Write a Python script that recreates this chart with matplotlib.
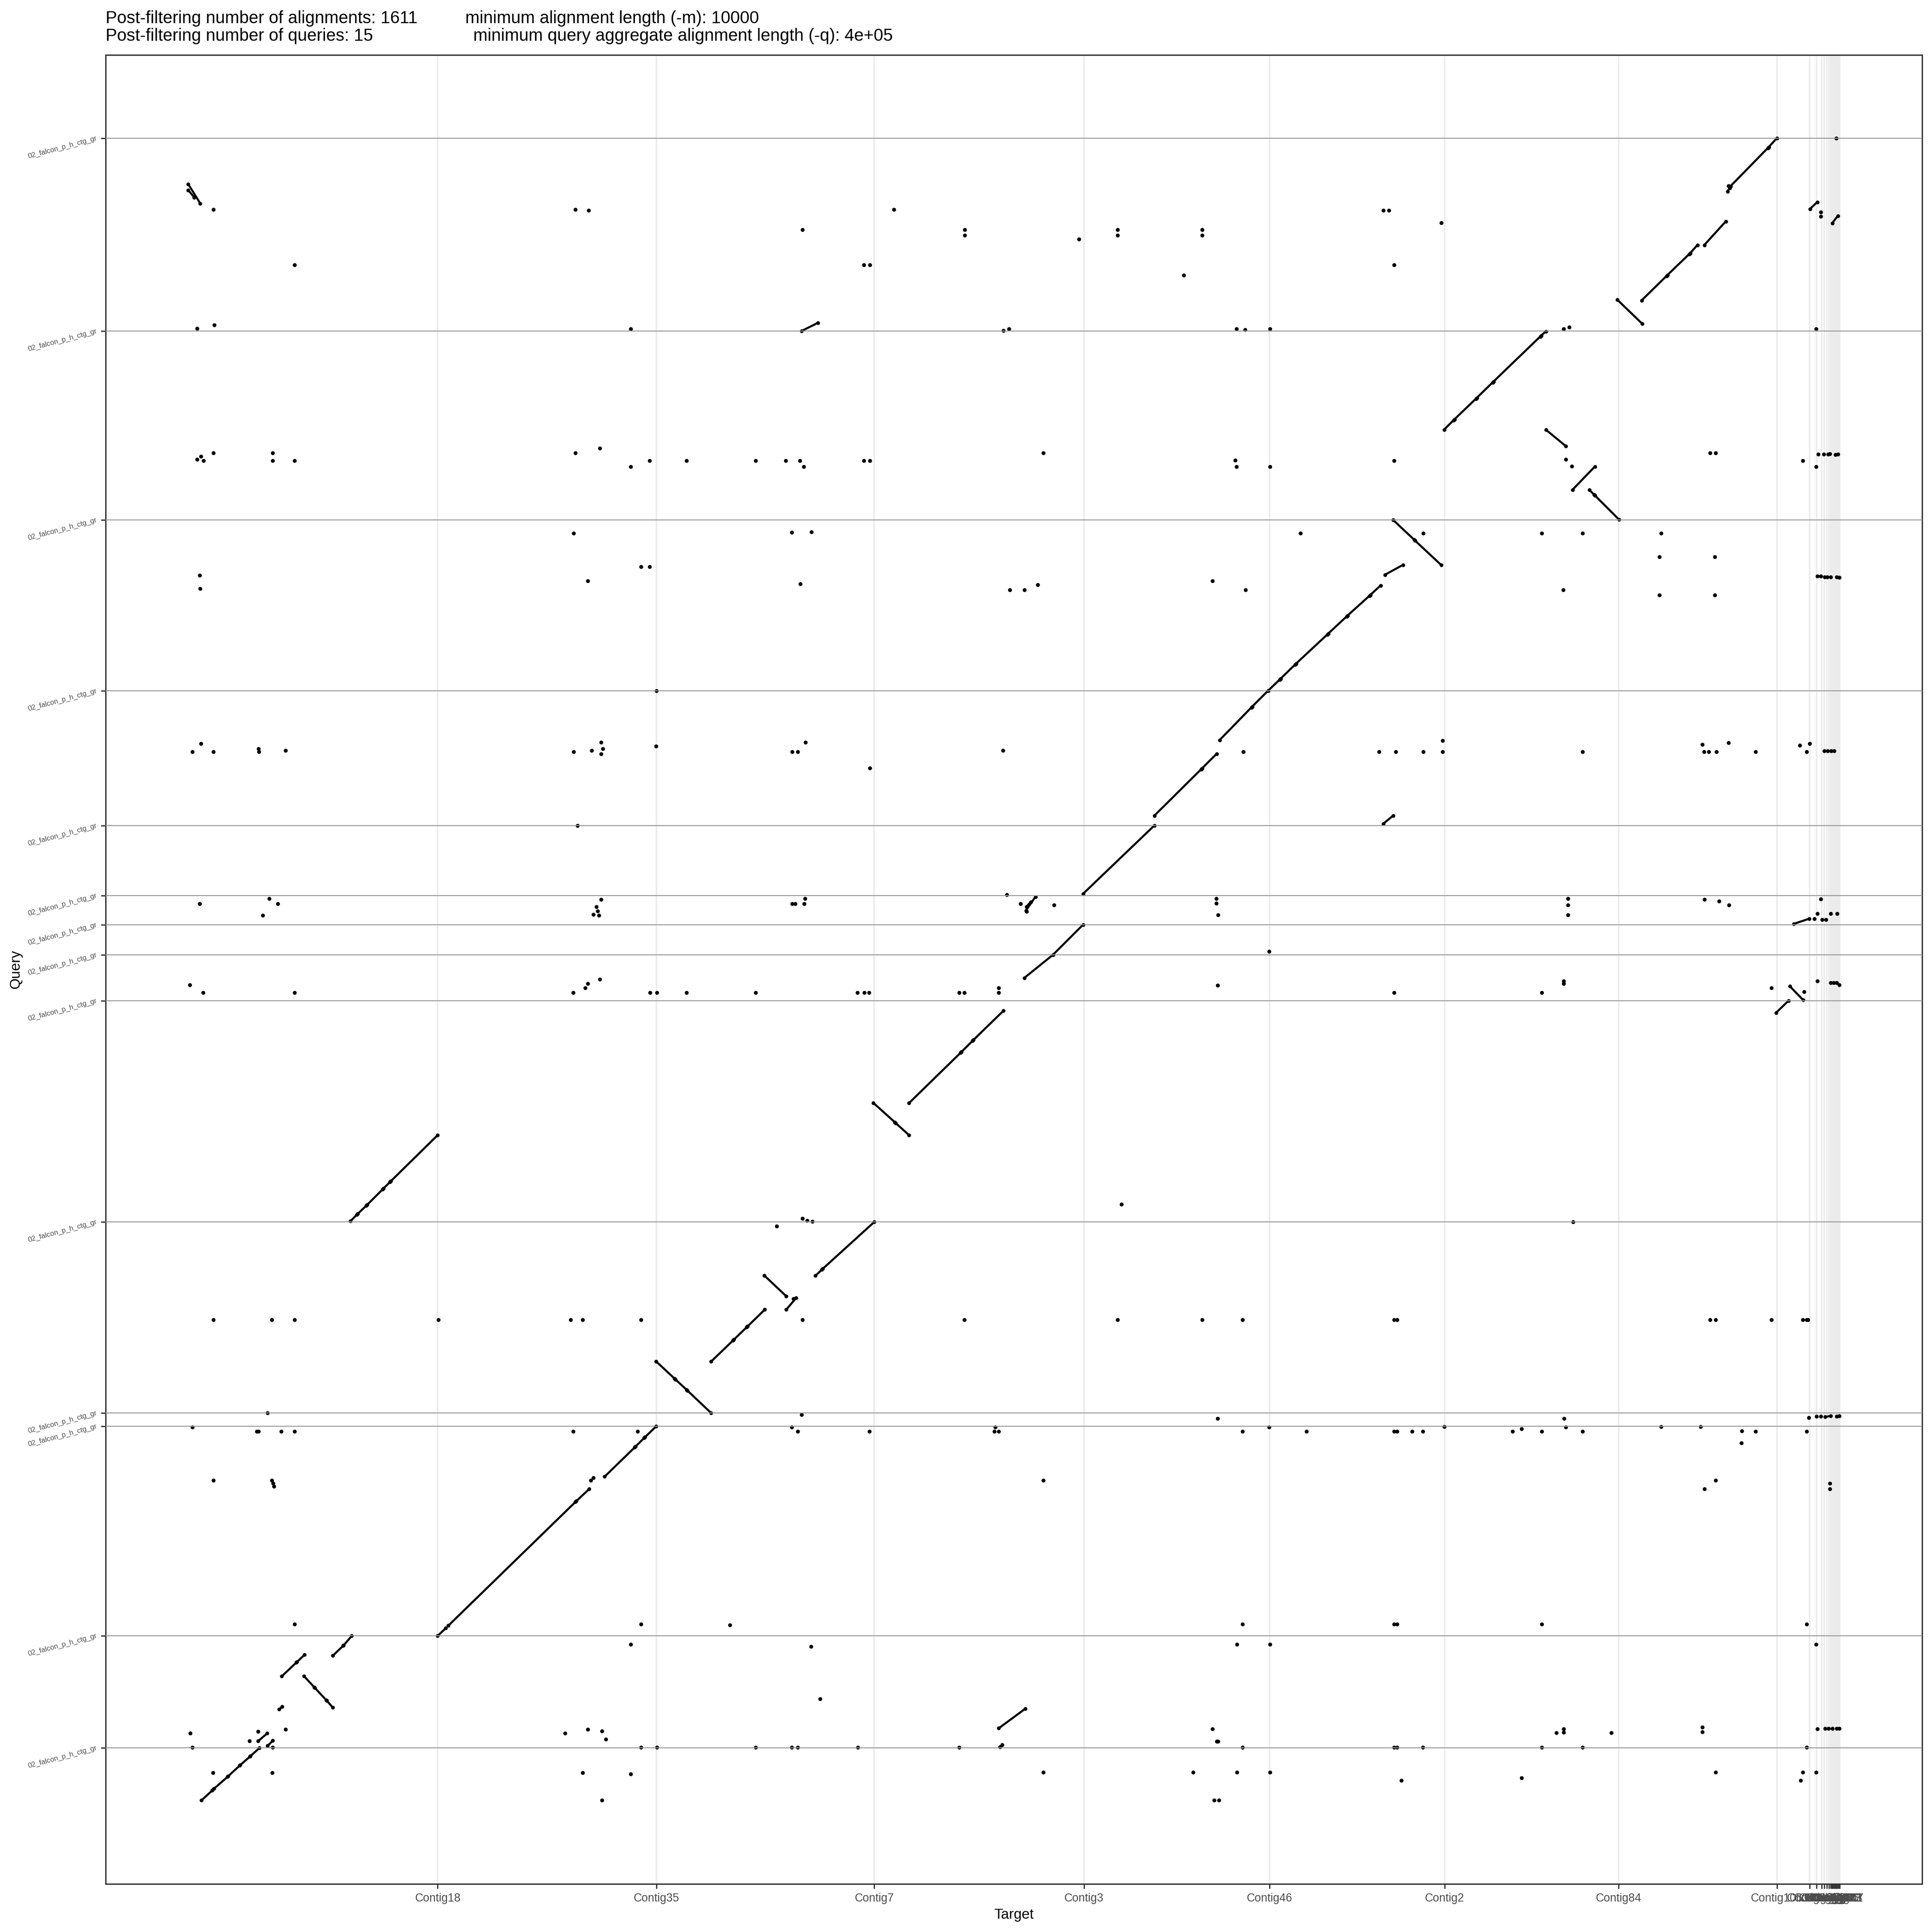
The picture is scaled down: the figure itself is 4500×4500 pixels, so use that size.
import matplotlib
matplotlib.use("Agg")
import matplotlib.pyplot as plt
from matplotlib.collections import LineCollection
import numpy as np

plt.rcParams['font.family'] = ['Liberation Sans', 'DejaVu Sans']

# ---------------- reference (target) contigs, lengths in Mb ----------------
ref_names = ["Contig18", "Contig35", "Contig7", "Contig3", "Contig46", "Contig2",
             "Contig84", "Contig106", "Contig60", "Contig93", "Contig51", "Contig77",
             "Contig29", "Contig88", "Contig112", "Contig64", "Contig97", "Contig70",
             "Contig123", "Contig55", "Contig101", "Contig117", "Contig43"]
ref_len_mb = [5.81, 5.10, 5.07, 4.88, 4.32, 4.08, 4.05, 3.69, 0.76, 0.16, 0.12, 0.06,
              0.06, 0.05, 0.04, 0.03, 0.02, 0.03, 0.025, 0.025, 0.025, 0.025, 0.03]

# ---------------- query contigs, lengths in Mb (bottom to top) ----------------
query_labels = ["02_falcon_p_h_ctg_gr"] * 14
query_len_mb = [1.23, 2.61, 4.88, 0.31, 4.45, 5.15, 1.07, 0.70, 0.68, 1.63,
                3.14, 3.98, 4.40, 4.49]

# ---------------- alignments: (target start, target end, query start, query end), Mb ----------------
aln_q1 = [(0.31, 0.56, 0.01, 0.24), (0.60, 0.92, 0.28, 0.56), (0.93, 1.20, 0.57, 0.82),
          (1.21, 1.44, 0.83, 1.03), (1.45, 1.66, 1.04, 1.23)]
aln_q2 = [(1.63, 1.84, 1.39, 1.57), (1.85, 1.97, 1.28, 1.40), (2.12, 2.19, 2.13, 2.19),
          (2.18, 2.52, 2.90, 3.22), (2.53, 2.71, 3.23, 3.40),
          (2.70, 2.94, 2.90, 2.64), (2.95, 3.22, 2.63, 2.34), (3.23, 3.37, 2.33, 2.17),
          (3.37, 3.61, 3.38, 3.61), (3.62, 3.81, 3.62, 3.84),
          (18.88, 19.49, 1.69, 2.14)]
aln_q3 = [(5.81, 6.00, 3.84, 4.02), (6.06, 9.02, 4.08, 6.96), (9.04, 9.34, 6.98, 7.26),
          (9.70, 10.40, 7.55, 8.23), (10.42, 10.62, 8.25, 8.45), (10.64, 10.90, 8.47, 8.72)]
aln_q4 = [(38.12, 38.25, 8.94, 8.96)]
aln_q5 = [(10.90, 11.33, 10.23, 9.83), (11.35, 11.61, 9.81, 9.57), (11.63, 12.18, 9.55, 9.03),
          (12.18, 12.69, 10.23, 10.72), (12.71, 13.01, 10.74, 11.03), (13.03, 13.43, 11.05, 11.44),
          (13.42, 13.93, 12.23, 11.75), (13.93, 14.16, 11.44, 11.71),
          (14.61, 14.76, 12.23, 12.37), (14.78, 15.98, 12.39, 13.48)]
aln_q6 = [(3.78, 3.93, 13.50, 13.65), (3.95, 4.15, 13.67, 13.86), (4.17, 4.53, 13.88, 14.24),
          (4.55, 4.70, 14.26, 14.41), (4.72, 5.81, 14.43, 15.50),
          (15.96, 16.46, 16.25, 15.80), (16.48, 16.79, 15.78, 15.50),
          (16.79, 17.99, 16.25, 17.42), (18.01, 18.27, 17.44, 17.70), (18.29, 18.99, 17.72, 18.40),
          (36.98, 37.27, 18.35, 18.63)]
aln_q7 = [(19.47, 20.14, 19.16, 19.70), (37.30, 37.61, 18.97, 18.65)]
aln_q8 = [(20.14, 20.84, 19.70, 20.40)]
aln_q9 = [(19.51, 19.73, 20.73, 21.05), (19.52, 19.62, 20.82, 20.93), (37.39, 37.75, 20.42, 20.54)]
aln_q10 = [(20.84, 22.50, 21.12, 22.71)]
aln_q11 = [(22.50, 23.59, 22.94, 24.02), (23.61, 23.95, 24.04, 24.38),
           (24.02, 24.76, 24.70, 25.46), (24.78, 25.15, 25.48, 25.85), (27.83, 28.06, 22.75, 22.94)]
aln_q12 = [(25.15, 25.42, 25.85, 26.11), (25.44, 25.78, 26.13, 26.46), (25.80, 26.53, 26.48, 27.16),
           (26.55, 26.98, 27.18, 27.58), (27.00, 27.51, 27.60, 28.06), (27.53, 27.77, 28.08, 28.30),
           (27.87, 28.29, 28.55, 28.78),
           (28.06, 28.55, 29.83, 29.37), (28.57, 29.18, 29.35, 28.78)]
aln_q13 = [(29.25, 29.47, 31.93, 32.15), (29.49, 29.99, 32.17, 32.65), (30.01, 30.38, 32.67, 33.03),
           (30.40, 31.49, 33.05, 34.10), (31.51, 31.62, 34.12, 34.22),
           (31.62, 32.08, 31.93, 31.55), (32.24, 32.76, 30.53, 31.07),
           (32.63, 32.74, 30.53, 30.42), (32.76, 33.32, 30.40, 29.84)]
aln_q14 = [(33.85, 34.43, 34.94, 35.51), (34.45, 34.96, 35.53, 36.02), (34.98, 35.15, 36.04, 36.23),
           (35.31, 35.81, 36.23, 36.78), (35.85, 35.90, 37.48, 37.56), (35.92, 36.79, 37.60, 38.49),
           (36.81, 37.00, 38.51, 38.72),
           (33.28, 33.86, 34.96, 34.40), (0.00, 0.28, 37.65, 37.20), (0.00, 0.14, 37.51, 37.34),
           (37.77, 37.94, 37.07, 37.23), (38.29, 38.42, 36.74, 36.91), (14.29, 14.67, 34.23, 34.42)]

# ---------------- short alignments (appear as dots): (target pos, query pos), Mb ----------------
hits_q1 = [(0.58, 0.65), (1.96, 0.65), (9.19, 0.65), (10.31, 0.62), (9.64, 0.01), (19.91, 0.66),
           (23.40, 0.66), (24.42, 0.66), (25.19, 0.66), (35.57, 0.66), (37.60, 0.66), (37.91, 0.66),
           (28.25, 0.47), (31.05, 0.53), (37.55, 0.47), (23.89, 0.01), (24.00, 0.01)]
hits_q2 = [(0.10, 1.24), (1.97, 1.24), (10.55, 1.24), (10.92, 1.24), (13.22, 1.24), (14.06, 1.24),
           (14.20, 1.24), (15.60, 1.24), (17.96, 1.24), (18.91, 1.25), (24.55, 1.24), (28.08, 1.24),
           (28.15, 1.24), (28.75, 1.24), (31.52, 1.24), (32.47, 1.24), (37.69, 1.24),
           (0.05, 1.57), (1.43, 1.39), (1.63, 1.61), (2.27, 1.66), (8.78, 1.57), (9.31, 1.66),
           (9.64, 1.62), (9.73, 1.43), (10.31, 3.64), (14.51, 3.59), (14.72, 2.37), (18.96, 1.30),
           (24.42, 3.64), (25.19, 3.64), (37.91, 3.64), (23.85, 1.67), (23.95, 1.38), (23.98, 1.38),
           (31.86, 1.58), (32.03, 1.67), (32.03, 1.59), (33.14, 1.58), (35.26, 1.71), (35.26, 1.60),
           (37.94, 1.67), (38.12, 1.68), (38.20, 1.68), (38.29, 1.68), (38.39, 1.68), (38.45, 1.68)]
hits_q3 = [(0.59, 7.46), (1.98, 7.39), (1.95, 7.46), (2.00, 7.32), (2.48, 4.11), (10.55, 4.11),
           (12.62, 4.09), (9.38, 7.46), (9.44, 7.52), (19.91, 7.46), (35.31, 7.26), (35.57, 7.46),
           (38.23, 7.39), (38.23, 7.26), (36.17, 8.33), (24.55, 4.11), (28.08, 4.11), (28.15, 4.11),
           (31.52, 4.11), (37.69, 4.11),
           (1.60, 8.60), (1.64, 8.60), (2.17, 8.60), (2.48, 8.60), (8.97, 8.60), (10.47, 8.60),
           (14.20, 8.60), (15.87, 8.60), (18.88, 8.60), (18.78, 8.60), (24.55, 8.60), (26.04, 8.60),
           (28.08, 8.60), (28.15, 8.60), (28.50, 8.60), (28.75, 8.60), (30.84, 8.60), (31.05, 8.66),
           (31.52, 8.60), (32.47, 8.60), (36.50, 8.60), (37.69, 8.60), (36.18, 8.61),
           (0.10, 8.70), (14.06, 8.70), (18.80, 8.70), (25.17, 8.70), (32.08, 8.70), (29.25, 8.71),
           (34.30, 8.71), (35.22, 8.71)]
hits_q4 = [(23.97, 8.90), (32.04, 8.90), (37.74, 8.92), (37.92, 8.95), (38.02, 8.95), (38.39, 8.95),
           (38.45, 8.96), (1.85, 9.03), (14.29, 8.99)]
hits_q5 = [(0.59, 11.20), (1.95, 11.20), (2.48, 11.20), (5.83, 11.20), (8.91, 11.20), (9.19, 11.20),
           (10.55, 11.20), (14.31, 11.20), (18.08, 11.20), (21.64, 11.20), (23.61, 11.20), (24.55, 11.20),
           (28.08, 11.20), (28.15, 11.20), (35.44, 11.20), (35.57, 11.20), (36.87, 11.20), (37.60, 11.20),
           (37.69, 11.20), (37.72, 11.20), (13.71, 13.38), (14.10, 11.69)]
hits_q6 = [(14.31, 13.56), (14.42, 13.51), (14.54, 13.49), (21.73, 13.89), (32.25, 13.48)]
hits_q7 = [(0.04, 19.00), (0.35, 18.82), (2.48, 18.82), (8.97, 18.82), (9.25, 18.93), (9.31, 19.03),
           (9.59, 19.13), (10.76, 18.82), (10.92, 18.82), (11.61, 18.82), (13.22, 18.82), (15.59, 18.82),
           (15.75, 18.82), (15.86, 18.82), (17.96, 18.82), (18.08, 18.82), (18.88, 18.93), (18.88, 18.82),
           (23.97, 18.99), (28.08, 18.82), (31.52, 18.82), (32.03, 19.09), (32.03, 19.03), (36.87, 18.93),
           (37.94, 19.09), (37.63, 18.84), (38.25, 19.05), (38.32, 19.05), (38.39, 19.05), (38.45, 19.00)]
hits_q8 = [(25.17, 19.78)]
hits_q9 = [(0.27, 20.89), (1.89, 21.01), (2.09, 20.89), (1.74, 20.62), (9.62, 20.99), (9.51, 20.82),
           (9.57, 20.62), (9.44, 20.64), (9.54, 20.72), (14.07, 20.89), (14.14, 20.89), (14.37, 21.01),
           (14.35, 20.89), (19.07, 21.10), (19.38, 20.89), (19.52, 20.71), (20.16, 20.86), (23.94, 21.01),
           (23.94, 20.90), (23.98, 20.63), (32.13, 21.01), (32.13, 20.86), (32.13, 20.63), (35.31, 20.99),
           (35.65, 20.95), (35.88, 20.86), (38.02, 21.00), (37.94, 20.66), (38.25, 20.66), (38.40, 20.66),
           (38.05, 20.52), (38.14, 20.52), (37.87, 20.54)]
hits_q10 = [(9.07, 22.71)]
hits_q11 = [(0.10, 24.43), (0.30, 24.62), (0.59, 24.43), (1.64, 24.50), (1.65, 24.43), (2.27, 24.46),
            (8.98, 24.43), (9.40, 24.46), (9.62, 24.65), (9.66, 24.50), (9.62, 24.38), (10.90, 24.56),
            (14.07, 24.43), (14.20, 24.43), (14.38, 24.65), (15.88, 24.05), (18.98, 24.46), (24.57, 24.43),
            (27.73, 24.43), (28.12, 24.43), (28.76, 24.43), (29.21, 24.69), (29.21, 24.43), (32.47, 24.43),
            (35.26, 24.60), (35.30, 24.43), (35.41, 24.43), (35.59, 24.43), (35.87, 24.64), (36.50, 24.43),
            (37.53, 24.58), (37.69, 24.43), (37.76, 24.62), (38.10, 24.45), (38.18, 24.45), (38.26, 24.45),
            (38.33, 24.45), (10.91, 25.85)]
hits_q12 = [(8.98, 29.52), (14.06, 29.54), (14.52, 29.55), (0.27, 28.54), (0.28, 28.23), (9.31, 28.41),
            (10.55, 28.74), (10.75, 28.74), (14.26, 28.34), (19.14, 28.20), (19.47, 28.20), (25.90, 29.52),
            (28.76, 29.52), (31.52, 29.52), (32.47, 29.52), (34.30, 29.52), (34.26, 28.97), (35.55, 28.97),
            (19.78, 28.32), (23.85, 28.41), (24.62, 28.20), (32.02, 28.20), (34.26, 28.08), (35.55, 28.08),
            (37.94, 28.52), (38.02, 28.52), (38.11, 28.50), (38.17, 28.50), (38.25, 28.50), (38.39, 28.50),
            (38.45, 28.49)]
hits_q13 = [(0.21, 31.24), (0.30, 31.31), (0.36, 31.21), (0.59, 31.39), (1.97, 31.39), (1.97, 31.21),
            (2.48, 31.21), (9.02, 31.39), (9.59, 31.50), (10.31, 31.07), (10.75, 31.21), (11.61, 31.21),
            (13.22, 31.21), (13.92, 31.21), (14.25, 31.21), (14.34, 31.07), (15.74, 31.21), (15.88, 31.21),
            (19.91, 31.39), (24.38, 31.22), (24.41, 31.07), (25.19, 31.07), (28.08, 31.21), (35.44, 31.39),
            (35.57, 31.39), (37.60, 31.21), (37.91, 31.07), (37.96, 31.36), (38.09, 31.36), (38.19, 31.36),
            (38.23, 31.37), (38.36, 31.35), (38.42, 31.36), (32.08, 31.24), (32.22, 31.08)]
hits_q14 = [(18.99, 34.24), (19.12, 34.28), (24.41, 34.28), (24.61, 34.26), (25.19, 34.28), (32.03, 34.28),
            (32.16, 34.32), (37.91, 34.28), (0.21, 34.29), (0.61, 34.37), (10.31, 34.28),
            (0.59, 37.06), (2.48, 35.77), (9.02, 37.06), (9.33, 37.04), (14.31, 36.59), (16.44, 37.06),
            (18.09, 36.59), (18.09, 36.46), (15.74, 35.77), (15.88, 35.77), (20.74, 36.37), (21.64, 36.59),
            (21.64, 36.46), (23.61, 36.59), (23.61, 36.46), (23.18, 35.53), (27.83, 37.04), (27.96, 37.04),
            (28.08, 35.77), (29.18, 36.75), (38.38, 38.72), (38.02, 37.00), (38.02, 36.90), (35.87, 37.61)]

n_alignments = 1611
n_queries = 15
min_aln = 10000
min_query_aln = "4e+05"

title = ("Post-filtering number of alignments: %d" % n_alignments + " " * 10 +
         "minimum alignment length (-m): %d\n" % min_aln +
         "Post-filtering number of queries: %d" % n_queries + " " * 21 +
         "minimum query aggregate alignment length (-q): %s" % min_query_aln)

# ---------------- build ----------------
alns = np.array(aln_q1 + aln_q2 + aln_q3 + aln_q4 + aln_q5 + aln_q6 + aln_q7 + aln_q8 +
                aln_q9 + aln_q10 + aln_q11 + aln_q12 + aln_q13 + aln_q14)
hits = np.array(hits_q1 + hits_q2 + hits_q3 + hits_q4 + hits_q5 + hits_q6 + hits_q7 + hits_q8 +
                hits_q9 + hits_q10 + hits_q11 + hits_q12 + hits_q13 + hits_q14)

ref_ends = np.cumsum(ref_len_mb)
qry_ends = np.cumsum(query_len_mb)
x_total = ref_ends[-1]
y_total = qry_ends[-1]

W = 4500.0
fig = plt.figure(figsize=(15, 15), dpi=300)
ax = fig.add_axes([246 / W, 1 - 4388 / W, 4231 / W, 4260 / W])
ax.set_xlim(-0.05 * x_total, 1.05 * x_total)
ax.set_ylim(-0.05 * y_total, 1.05 * y_total)

ax.set_xticks(ref_ends)
ax.set_xticklabels(ref_names)
ax.set_yticks(qry_ends)
ax.set_yticklabels(query_labels)
ax.grid(axis='x', color='#EBEBEB', linewidth=0.85, zorder=0)
ax.grid(axis='y', visible=False)
ax.set_axisbelow(True)

black = '#000000'
segs = [[(a[0], a[2]), (a[1], a[3])] for a in alns]
ax.add_collection(LineCollection(segs, colors=black, linewidths=1.15, zorder=2, capstyle='round'))
ax.scatter(alns[:, 0], alns[:, 2], s=4.5, c=black, linewidths=0, zorder=2.5)
ax.scatter(alns[:, 1], alns[:, 3], s=4.5, c=black, linewidths=0, zorder=2.5)
ax.scatter(hits[:, 0], hits[:, 1], s=4.8, c=black, linewidths=0, zorder=2.5)

for yv in qry_ends:
    ax.axhline(yv, color='#999999', linewidth=0.55, zorder=3)

for sp in ax.spines.values():
    sp.set_color('#333333')
    sp.set_linewidth(0.75)

ax.tick_params(axis='both', which='major', length=2.75, width=0.7, color='#333333',
               labelcolor='#4D4D4D', pad=2.2)
ax.tick_params(axis='x', labelsize=6.4)
ax.tick_params(axis='y', labelsize=4)
for lab in ax.get_yticklabels():
    lab.set_rotation(15)
    lab.set_rotation_mode('anchor')
    lab.set_ha('right')
    lab.set_va('center')

ax.set_xlabel("Target", fontsize=8, color='black')
ax.xaxis.set_label_coords(0.5, -(4461 - 4388) / 4260.0)
ax.xaxis.label.set_va('center')
ax.set_ylabel("Query", fontsize=8, color='black')
ax.yaxis.set_label_coords(-(246 - 37) / 4231.0, 0.5)
ax.yaxis.label.set_va('center')

fig.text(246 / W, 1 - 24 / W, title, ha='left', va='top', fontsize=9.6, linespacing=1.1,
         color='black')

fig.savefig("out.png", dpi=300, facecolor='white')
